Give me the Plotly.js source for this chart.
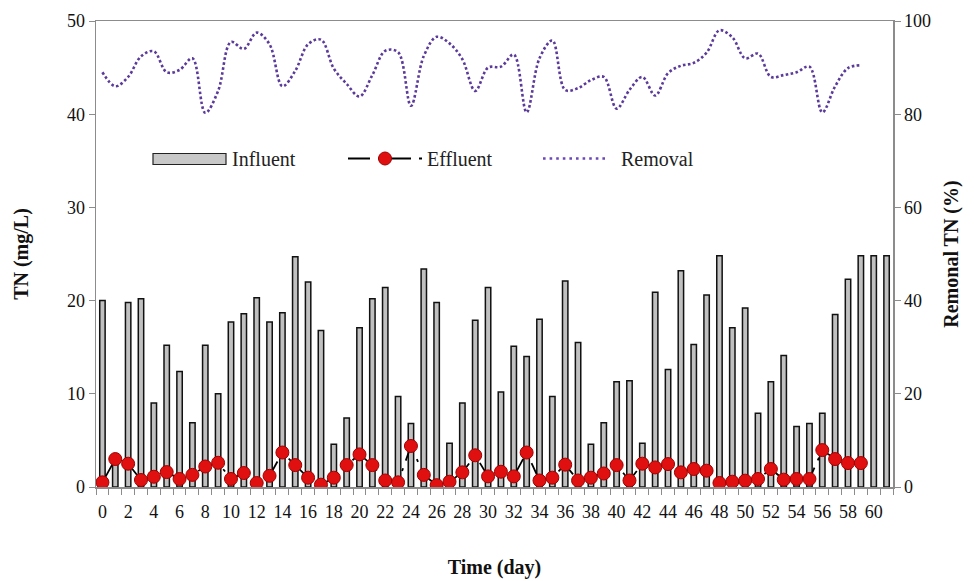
<!DOCTYPE html>
<html>
<head>
<meta charset="utf-8">
<script src="https://cdn.plot.ly/plotly-3.0.1.min.js"></script>
<style>html,body{margin:0;padding:0;background:#fff;}#chart{width:974px;height:581px;}</style>
</head>
<body>
<div id="chart"></div>
<script>
// Days for influent bars (0..61)
const influentDays = Array.from({length: 62}, (_, i) => i);
const influent = [20.0, 2.8, 19.8, 20.2, 9.0, 15.2, 12.4, 6.9, 15.2, 10.0,
  17.7, 18.6, 20.3, 17.7, 18.7, 24.7, 22.0, 16.8, 4.6, 7.4,
  17.1, 20.2, 21.4, 9.7, 6.8, 23.4, 19.8, 4.7, 9.0, 17.9,
  21.4, 10.2, 15.1, 14.0, 18.0, 9.7, 22.1, 15.5, 4.6, 6.9,
  11.3, 11.4, 4.7, 20.9, 12.6, 23.2, 15.3, 20.6, 24.8, 17.1,
  19.2, 7.9, 11.3, 14.1, 6.5, 6.8, 7.9, 18.5, 22.3, 24.8,
  24.8, 24.8];

// Days for effluent and removal (0..59)
const effluentDays = Array.from({length: 60}, (_, i) => i);
const effluent = [0.5, 3.0, 2.5, 0.75, 1.1, 1.6, 0.86, 1.3, 2.2, 2.6,
  0.86, 1.5, 0.43, 1.2, 3.7, 2.35, 1.0, 0.25, 1.0, 2.35,
  3.5, 2.35, 0.7, 0.5, 4.4, 1.3, 0.2, 0.57, 1.57, 3.4,
  1.14, 1.64, 1.14, 3.7, 0.7, 1.0, 2.4, 0.7, 1.0, 1.45,
  2.35, 0.7, 2.5, 2.1, 2.46, 1.57, 1.93, 1.75, 0.43, 0.57,
  0.68, 0.86, 1.93, 0.79, 0.86, 0.86, 3.96, 3.0, 2.57, 2.57];

const removalDays = Array.from({length: 60}, (_, i) => i);
const removal = [89, 86, 88, 92.4, 93.5, 89, 89.5, 92, 80.3, 85,
  95.5, 94, 97.5, 95, 86, 89.3, 95, 96, 89.8, 86.5,
  83.8, 88.4, 93.6, 93.3, 81.8, 92.5, 96.6, 95.2, 91.8, 85,
  90, 90.2, 92.8, 80.4, 92, 95.8, 85.2, 85.6, 87.3, 88,
  81.2, 85.2, 88, 84, 88.8, 90.4, 91, 93.2, 98, 96.5,
  92, 93, 88, 88.4, 89, 90.2, 80.4, 86, 89.9, 90.5];

const seriesNames = ['Influent', 'Effluent', 'Removal'];
const xTitle = 'Time (day)';
const yTitle = 'TN (mg/L)';
const y2Title = 'Remonal TN (%)';

const SERIF = 'Liberation Serif, Times New Roman, serif';
const AXIS_GRAY = '#8c8c8c';
const PURPLE = '#5a3a9a';

const traces = [
  {
    type: 'bar', name: seriesNames[0], x: influentDays, y: influent,
    width: 0.42,
    marker: {color: '#c0c0c0', line: {color: '#111', width: 1.5}},
    showlegend: false, hoverinfo: 'x+y'
  },
  {
    type: 'scatter', mode: 'lines+markers', name: seriesNames[1],
    x: effluentDays, y: effluent,
    line: {color: '#000', width: 1.8, dash: '22px,8px,3px,8px'},
    marker: {symbol: 'circle', size: 13, color: '#e01010', line: {color: '#a00000', width: 1}},
    showlegend: false
  },
  {
    type: 'scatter', mode: 'lines', name: seriesNames[2],
    x: removalDays, y: removal, yaxis: 'y2',
    line: {color: PURPLE, width: 2.6, dash: '2.6px,2.4px', shape: 'spline', smoothing: 1},
    showlegend: false
  }
];

// plot area in px: left 96, right 893, top 21, bottom 487
const L = 96, R = 893, T = 21, B = 487;
const px = x => (x - L) / (R - L);
const py = y => (B - y) / (B - T);
const legY = 158.5;

const shapes = [
  {type: 'rect', xref: 'paper', yref: 'paper', x0: px(153), x1: px(226), y0: py(164.5), y1: py(153.5),
   fillcolor: '#c8c8c8', line: {color: '#222', width: 1.2}},
  {type: 'line', xref: 'paper', yref: 'paper', x0: px(348), x1: px(424), y0: py(legY), y1: py(legY),
   line: {color: '#000', width: 2, dash: '22px,8px,3px,8px'}},
  {type: 'circle', xref: 'paper', yref: 'paper', x0: px(378.5), x1: px(391.5), y0: py(165), y1: py(152),
   fillcolor: '#e01010', line: {color: '#a00000', width: 1}},
  {type: 'line', xref: 'paper', yref: 'paper', x0: px(543), x1: px(609), y0: py(legY), y1: py(legY),
   line: {color: '#6a48b8', width: 2.6, dash: '2.6px,4px'}}
];

const legFont = {family: SERIF, size: 20, color: '#222'};
const annotations = [
  {xref: 'paper', yref: 'paper', x: px(230), y: py(legY), text: seriesNames[0], showarrow: false, xanchor: 'left', yanchor: 'middle', font: legFont},
  {xref: 'paper', yref: 'paper', x: px(425), y: py(legY), text: seriesNames[1], showarrow: false, xanchor: 'left', yanchor: 'middle', font: legFont},
  {xref: 'paper', yref: 'paper', x: px(619), y: py(legY), text: seriesNames[2], showarrow: false, xanchor: 'left', yanchor: 'middle', font: legFont}
];

const tickFont = {family: SERIF, size: 18, color: '#111'};
const titleFont = {family: SERIF, size: 20, color: '#111'};

const layout = {
  width: 974, height: 581,
  margin: {l: L, r: 974 - R, t: T, b: 581 - B, pad: 0},
  paper_bgcolor: '#fff', plot_bgcolor: '#fff',
  showlegend: false,
  bargap: 0,
  xaxis: {
    range: [-0.5, 61.5], tickmode: 'linear', tick0: 0, dtick: 2,
    ticks: '', showgrid: false, zeroline: false,
    showline: true, linecolor: AXIS_GRAY, linewidth: 1.5, mirror: true,
    tickfont: tickFont, ticklabelstandoff: 8,
    minor: {tickmode: 'linear', tick0: 0.5, dtick: 1, ticks: 'outside', ticklen: 6, tickcolor: AXIS_GRAY, tickwidth: 1},
    title: {text: '<b>' + xTitle + '</b>', font: titleFont, standoff: 39}
  },
  yaxis: {
    range: [0, 50], tickmode: 'linear', tick0: 0, dtick: 10,
    ticks: 'outside', ticklen: 6, tickcolor: AXIS_GRAY, tickwidth: 1,
    showgrid: false, zeroline: false,
    showline: true, linecolor: AXIS_GRAY, linewidth: 1.5,
    tickfont: tickFont,
    title: {text: '<b>' + yTitle + '</b>', font: titleFont, standoff: 33}
  },
  yaxis2: {
    range: [0, 100], tickmode: 'linear', tick0: 0, dtick: 20,
    overlaying: 'y', side: 'right',
    ticks: 'outside', ticklen: 6, tickcolor: AXIS_GRAY, tickwidth: 1,
    showgrid: false, zeroline: false,
    showline: true, linecolor: AXIS_GRAY, linewidth: 1.5,
    tickfont: tickFont,
    title: {text: '<b>' + y2Title + '</b>', font: titleFont, standoff: 14}
  },
  shapes: shapes,
  annotations: annotations
};

Plotly.newPlot('chart', traces, layout, {staticPlot: true, displayModeBar: false});
</script>
</body>
</html>
